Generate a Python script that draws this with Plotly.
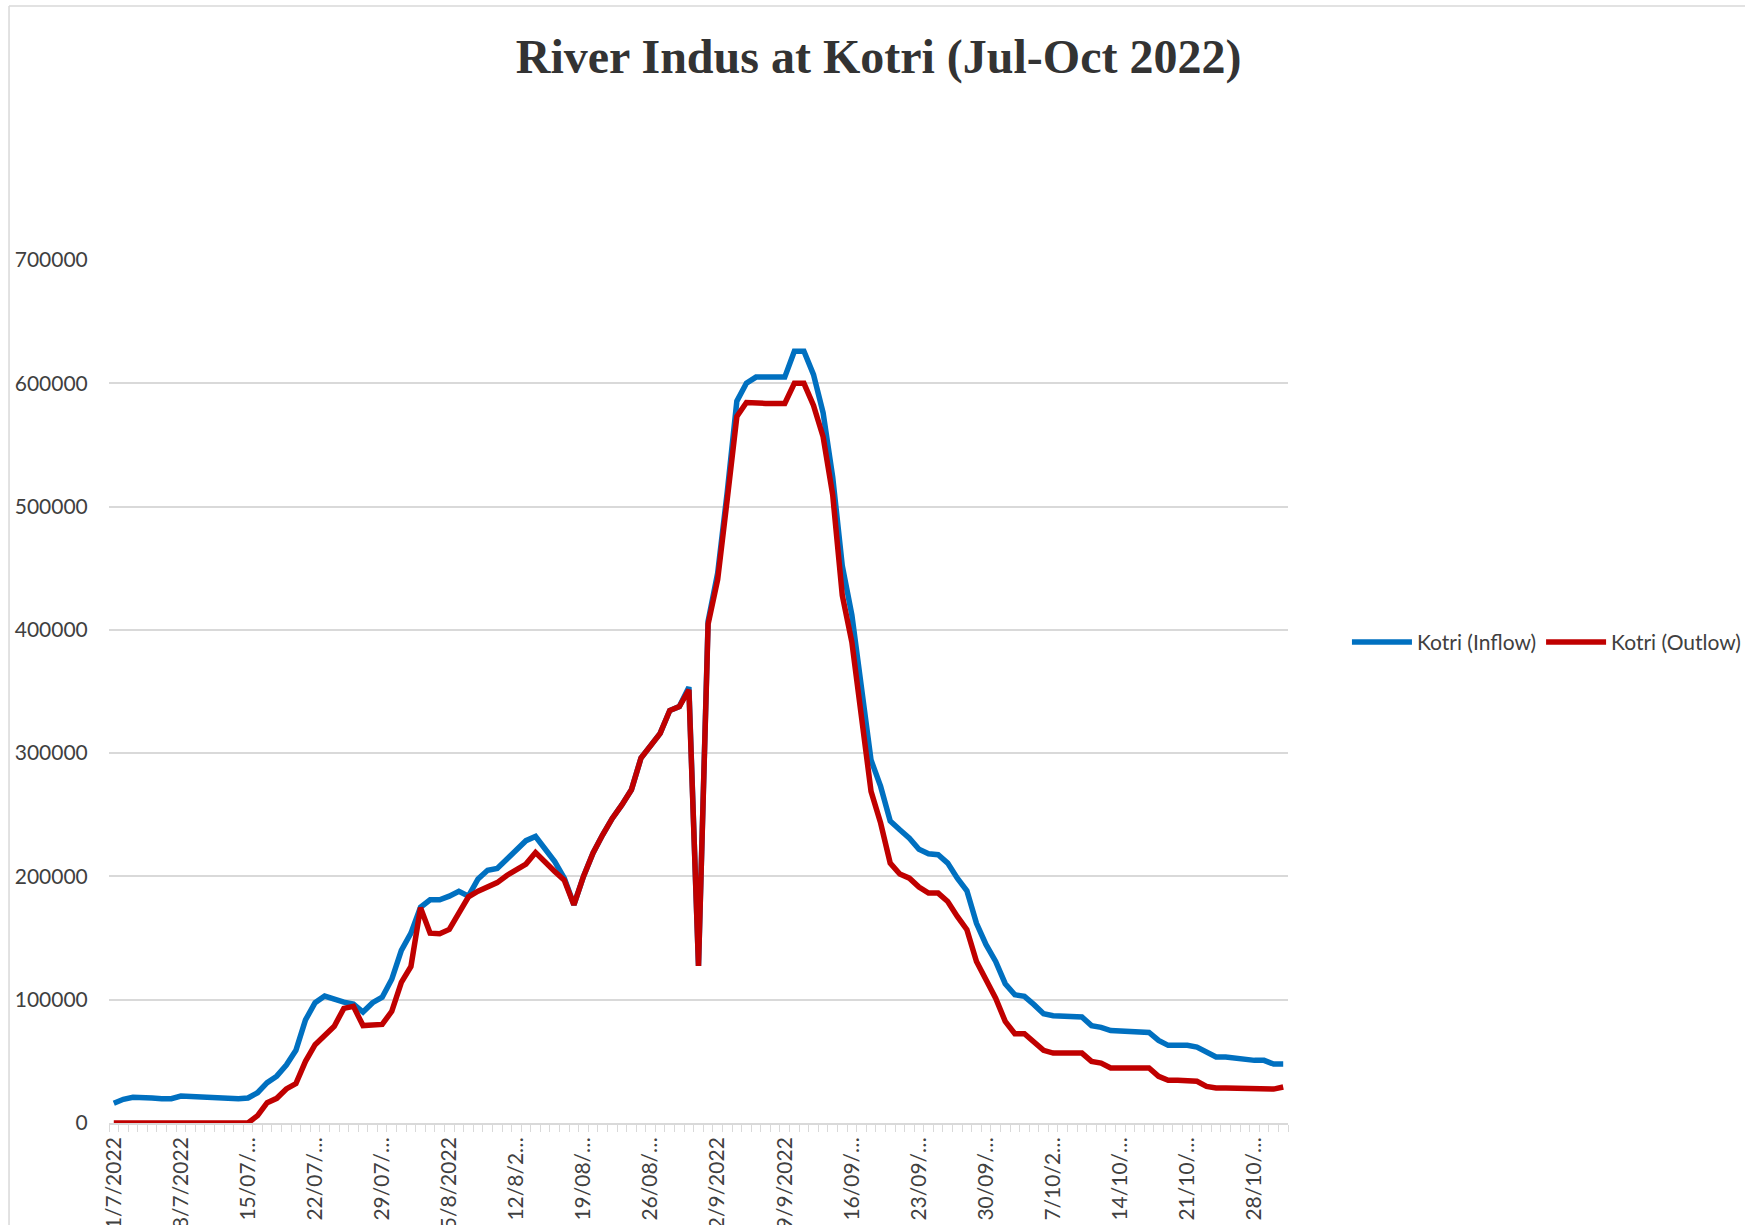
import pandas as pd
import plotly.graph_objects as go

# Daily discharge (cusecs) of the Indus at Kotri Barrage, 1 Jul - 31 Oct 2022
dates = pd.date_range("2022-07-01", "2022-10-31", freq="D")

inflow = [
    16000, 19200, 20800, 21000, 20300, 19700, 19700, 21900, 21400, 20800,
    20300, 19700, 19200, 19700, 20300, 24600, 32700, 38000, 47000, 59000,
    83600, 97600, 103000, 100000, 98000, 96500, 90000, 97600, 102000, 116600,
    140000, 154000, 175000, 181000, 181000, 184000, 188000, 184000, 198000, 205000,
    206500, 214000, 222000, 229000, 232400, 223000, 212000, 198600, 177000, 200000,
    219000, 233800, 247000, 258000, 270300, 296000, 305400, 316000, 334600, 337800,
    353500, 127500, 407000, 446000, 512000, 585500, 600000, 605000, 605000, 605000,
    605000, 626000, 626000, 607000, 576000, 524000, 452000, 412000, 354000, 294400,
    273000, 245000, 237800, 231000, 222000, 218400, 217600, 210800, 198600, 188400,
    162000, 144600, 131000, 113000, 104000, 102700, 96000, 88600, 87000, 87000,
    86500, 86000, 79000, 77600, 75000, 74900, 74300, 74300, 73500, 67000,
    63000, 63000, 63000, 61600, 57300, 53500, 53500, 52400, 52000, 50800,
    50800, 47800, 47800,
]

outflow = [
    0, 0, 0, 0, 0, 0, 0, 0, 0, 0,
    0, 0, 0, 0, 0, 6000, 16500, 20000, 27600, 32000,
    50000, 63500, 71700, 78500, 93000, 94600, 79000, 79000, 80000, 90600,
    114000, 127000, 174600, 154000, 153500, 157000, 170500, 183500, 188000, 192000,
    195000, 200800, 205000, 210000, 219400, 211000, 204000, 197000, 177000, 200000,
    219000, 233800, 247000, 258000, 270300, 296000, 305400, 316000, 334600, 337800,
    351300, 127500, 404600, 440800, 506000, 573000, 584400, 583700, 583700, 583700,
    583700, 600000, 600000, 582000, 556600, 509500, 428000, 390000, 325000, 269000,
    243300, 210800, 202000, 198600, 191400, 186500, 186500, 179700, 167600, 156800,
    131000, 114900, 101300, 82400, 72400, 72400, 66000, 58900, 56700, 56700,
    56700, 56700, 50000, 48600, 44600, 44600, 44600, 44600, 44600, 37800,
    34600, 34600, 34600, 33800, 29700, 28400, 28400, 28400, 28400, 27500,
    27500, 27500, 29200,
]

# Weekly category labels as they appear under the axis
tick_dates = dates[::7]
tick_labels = [
    "1/7/2022", "8/7/2022", "15/07/…", "22/07/…", "29/07/…", "5/8/2022",
    "12/8/2…", "19/08/…", "26/08/…", "2/9/2022", "9/9/2022", "16/09/…",
    "23/09/…", "30/09/…", "7/10/2…", "14/10/…", "21/10/…", "28/10/…",
]
y_ticks = [0, 100000, 200000, 300000, 400000, 500000, 600000, 700000]

FONT = "Lato, 'Open Sans', sans-serif"
TEXT = "#404040"
GRID = "#d9d9d9"

fig = go.Figure()
fig.add_trace(go.Scatter(
    x=dates, y=inflow, mode="lines", name="Kotri (Inflow)",
    line=dict(color="#0070C0", width=5.5),
))
fig.add_trace(go.Scatter(
    x=dates, y=outflow, mode="lines", name="Kotri (Outlow)",
    line=dict(color="#C00000", width=5.5),
))

half_day = pd.Timedelta(hours=12)
fig.update_xaxes(
    range=[dates[0] - half_day, dates[-1] + half_day],
    automargin=False,
    tickmode="array",
    tickvals=tick_dates,
    ticktext=tick_labels,
    tickangle=-90,
    ticks="",
    ticklabelstandoff=4,
    tickfont=dict(family=FONT, size=21, color=TEXT),
    showgrid=False,
    showline=True,
    linecolor=GRID,
    linewidth=1.5,
    minor=dict(
        tickmode="linear",
        tick0=dates[0] - half_day,
        dtick=86400000,
        ticks="outside",
        ticklen=7,
        tickwidth=1.2,
        tickcolor=GRID,
        showgrid=False,
    ),
    zeroline=False,
)
fig.update_yaxes(
    range=[0, 700000],
    automargin=False,
    tickmode="array",
    tickvals=y_ticks,
    ticktext=[str(v) for v in y_ticks],
    tickfont=dict(family=FONT, size=21, color=TEXT),
    ticks="outside",
    ticklen=16,
    tickcolor="rgba(0,0,0,0)",
    showgrid=True,
    gridcolor=GRID,
    gridwidth=1.5,
    zeroline=False,
    showline=False,
)

fig.update_layout(
    width=1745,
    height=1225,
    margin=dict(l=109, r=457, t=260, b=102, autoexpand=False),
    paper_bgcolor="white",
    plot_bgcolor="white",
    title=dict(
        text="<b>River Indus at Kotri (Jul-Oct 2022)</b>",
        font=dict(family="'Liberation Serif', 'Times New Roman', serif", size=48, color="#333333"),
        x=0.5035, xref="container", xanchor="center",
        y=0.954, yref="container", yanchor="middle",
    ),
    legend=dict(
        orientation="h",
        x=1.050, xanchor="left",
        y=0.557, yanchor="middle",
        font=dict(family=FONT, size=21, color=TEXT),
        itemwidth=60,
        bgcolor="rgba(0,0,0,0)",
    ),
    shapes=[
        # chart-area frame, left and top edges
        dict(type="line", xref="paper", yref="paper", x0=-0.0848, x1=-0.0848,
             y0=-0.2, y1=1.2943, line=dict(color=GRID, width=1.5)),
        dict(type="line", xref="paper", yref="paper", x0=-0.0848, x1=1.45,
             y0=1.2943, y1=1.2943, line=dict(color=GRID, width=1.5)),
    ],
)

fig.write_html("out.html")
